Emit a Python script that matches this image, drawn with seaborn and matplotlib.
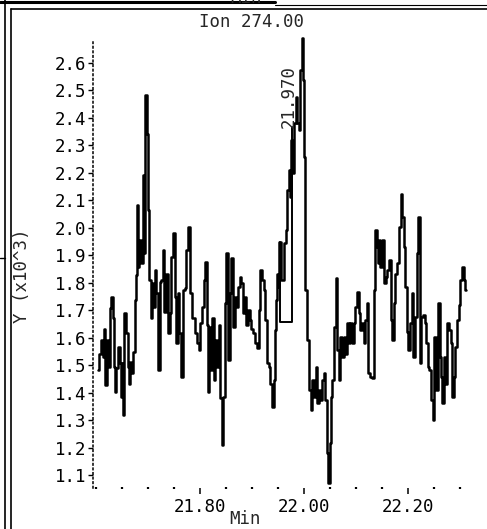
import numpy as np
import pandas as pd
import seaborn as sns
import matplotlib.pyplot as plt
from matplotlib.lines import Line2D
from matplotlib.ticker import MultipleLocator, FormatStrFormatter

# ion trace, time in min, abundance in thousands
times = [
    21.604, 21.608, 21.612, 21.615, 21.617, 21.619, 21.623, 21.626, 21.628, 21.631,
    21.634, 21.636, 21.638, 21.640, 21.644, 21.647, 21.649, 21.651, 21.653, 21.656,
    21.660, 21.662, 21.664, 21.667, 21.669, 21.672, 21.676, 21.678, 21.680, 21.682,
    21.685, 21.688, 21.692, 21.694, 21.696, 21.699, 21.701, 21.704, 21.706, 21.709,
    21.711, 21.714, 21.717, 21.721, 21.724, 21.727, 21.730, 21.733, 21.737, 21.740,
    21.743, 21.746, 21.749, 21.753, 21.756, 21.759, 21.762, 21.765, 21.769, 21.772,
    21.775, 21.778, 21.782, 21.787, 21.793, 21.796, 21.799, 21.803, 21.806, 21.809,
    21.812, 21.815, 21.817, 21.819, 21.822, 21.825, 21.828, 21.831, 21.835, 21.838,
    21.841, 21.843, 21.846, 21.849, 21.852, 21.856, 21.859, 21.862, 21.865, 21.869,
    21.872, 21.875, 21.878, 21.881, 21.885, 21.888, 21.891, 21.894, 21.897, 21.901,
    21.905, 21.908, 21.912, 21.915, 21.918, 21.921, 21.924, 21.928, 21.931, 21.934,
    21.937, 21.940, 21.944, 21.946, 21.948, 21.950, 21.952, 21.954,
    21.959, 21.963,
    21.967, 21.969, 21.972, 21.974, 21.977, 21.979, 21.983, 21.986, 21.988, 21.992,
    21.995, 21.998, 22.000, 22.002, 22.004, 22.008, 22.012, 22.014, 22.017, 22.021,
    22.024, 22.027, 22.030, 22.033, 22.037, 22.040, 22.043, 22.046, 22.048, 22.051,
    22.053, 22.056, 22.060, 22.063, 22.066, 22.069, 22.072, 22.075, 22.078, 22.081,
    22.085, 22.088, 22.091, 22.094, 22.098, 22.101, 22.104, 22.107, 22.110, 22.113,
    22.117, 22.120, 22.123, 22.126, 22.129, 22.133, 22.136, 22.138, 22.142, 22.145,
    22.146, 22.149, 22.152, 22.156, 22.159, 22.162, 22.165, 22.169, 22.172, 22.175,
    22.178, 22.181, 22.185, 22.188, 22.191, 22.194, 22.197, 22.199, 22.202, 22.206,
    22.209, 22.212, 22.215, 22.219, 22.222, 22.224, 22.227, 22.231, 22.234, 22.237,
    22.240, 22.244, 22.247, 22.250, 22.253, 22.256, 22.260, 22.263, 22.266, 22.268,
    22.271, 22.274, 22.277, 22.281, 22.284, 22.287, 22.290, 22.294, 22.297, 22.300,
    22.303, 22.306, 22.310, 22.312,
]
intensity = [
    1.482, 1.542, 1.591, 1.530, 1.633, 1.427, 1.591, 1.494, 1.706, 1.748,
    1.670, 1.494, 1.403, 1.488, 1.567, 1.506, 1.385, 1.506, 1.318, 1.688,
    1.615, 1.494, 1.433, 1.512, 1.470, 1.548, 1.736, 1.827, 2.082, 1.858,
    1.955, 1.870, 2.191, 1.906, 2.482, 2.342, 2.064, 1.809, 1.670, 1.797,
    1.712, 1.845, 1.761, 1.482, 1.803, 1.809, 1.918, 1.694, 1.833, 1.615,
    1.688, 1.894, 1.979, 1.748, 1.579, 1.761, 1.615, 1.457, 1.773, 1.779,
    1.918, 2.003, 1.761, 1.670, 1.615, 1.579, 1.555, 1.652, 1.712, 1.809,
    1.876, 1.645, 1.403, 1.639, 1.482, 1.670, 1.445, 1.591, 1.494, 1.645,
    1.379, 1.209, 1.385, 1.724, 1.906, 1.518, 1.761, 1.888, 1.639, 1.748,
    1.712, 1.785, 1.821, 1.797, 1.688, 1.748, 1.645, 1.700, 1.664, 1.633,
    1.615, 1.579, 1.561, 1.700, 1.845, 1.809, 1.773, 1.664, 1.506, 1.494,
    1.433, 1.348, 1.445, 1.627, 1.736, 1.833, 1.785, 1.948,
    1.809, 1.943,
    1.991, 2.136, 2.209, 2.112, 2.318, 2.197, 2.379, 2.476, 2.379, 2.355,
    2.573, 2.688, 2.536, 2.258, 1.773, 1.591, 1.409, 1.336, 1.445, 1.385,
    1.494, 1.361, 1.409, 1.373, 1.445, 1.470, 1.373, 1.179, 1.070, 1.215,
    1.385, 1.445, 1.639, 1.815, 1.555, 1.445, 1.603, 1.530, 1.603, 1.542,
    1.652, 1.579, 1.652, 1.579, 1.652, 1.712, 1.767, 1.688, 1.627, 1.652,
    1.579, 1.664, 1.724, 1.470, 1.457, 1.452, 1.773, 1.991, 1.930, 1.870,
    1.955, 1.858, 1.955, 1.797, 1.821, 1.845, 1.882, 1.664, 1.591, 1.724,
    1.833, 1.870, 2.003, 2.124, 2.039, 1.930, 1.785, 1.621, 1.555, 1.652,
    1.761, 1.530, 1.676, 1.906, 2.039, 1.506, 1.676, 1.682, 1.652, 1.579,
    1.494, 1.482, 1.373, 1.300, 1.603, 1.409, 1.724, 1.530, 1.457, 1.361,
    1.530, 1.433, 1.652, 1.627, 1.579, 1.385, 1.457, 1.567, 1.664, 1.718,
    1.809, 1.858, 1.809, 1.773,
]

# integration box drawn under the peak
box_t = [21.955, 21.955, 21.978, 21.978]
box_v = [1.948, 1.656, 1.656, 2.365]

peak_rt = 21.970
title = "Ion 274.00"
yticks = [1.1, 1.2, 1.3, 1.4, 1.5, 1.6, 1.7, 1.8, 1.9, 2.0, 2.1, 2.2, 2.3, 2.4, 2.5, 2.6]
xticks = [21.80, 22.00, 22.20]

df = pd.DataFrame({"Min": times, "Y": intensity})

sns.set_style("white")
plt.rcParams["font.family"] = ["DejaVu Sans Mono"]
FS = 12.5

W, H = 487, 529
fig = plt.figure(figsize=(W / 100, H / 100), dpi=100)
ax = fig.add_axes([93 / W, 1 - 488 / H, (470 - 93) / W, (488 - 42) / H])

sns.lineplot(data=df, x="Min", y="Y", ax=ax, color="black", lw=1.8,
             estimator=None, drawstyle="steps-mid", clip_on=False)
ax.plot(box_t, box_v, color="black", lw=1.4)

ax.set_xlim(21.594, 22.32)
ax.set_ylim(1.053, 2.675)

ax.set_yticks(yticks)
ax.yaxis.set_major_formatter(FormatStrFormatter("%.1f"))
ax.set_xticks(xticks)
ax.xaxis.set_major_formatter(FormatStrFormatter("%.2f"))
ax.xaxis.set_minor_locator(MultipleLocator(0.05))

for s in ["top", "right", "bottom"]:
    ax.spines[s].set_visible(False)
ax.spines["left"].set_linestyle((0, (1, 2)))
ax.spines["left"].set_linewidth(1.1)
ax.spines["left"].set_color("black")

ax.tick_params(axis="y", left=True, direction="out", length=3.5, width=1.0, pad=1.5,
               labelsize=FS, colors="black")
ax.tick_params(axis="x", which="major", bottom=True, direction="out", length=4,
               width=1.1, pad=3, labelsize=FS, colors="black")
ax.tick_params(axis="x", which="minor", bottom=True, direction="inout", length=1.6,
               width=1.6, colors="black")
ax.set_xlabel("")
ax.set_ylabel("")

ax.text(peak_rt, 2.362, f"{peak_rt:.3f}", rotation=90, ha="center", va="bottom",
        fontsize=FS)

fig.text(251 / W, 1 - 22 / H, title, ha="center", va="center", fontsize=FS)
fig.text(245 / W, 1 - 519 / H, "Min", ha="center", va="center", fontsize=FS)
fig.text(22 / W, 1 - 276 / H, "Y (x10^3)", rotation=90, ha="center", va="center",
         fontsize=FS)
# bottom of the previous panel's x label, cut by the page edge
fig.text(246 / W, 1 - 3 / H, "Min", ha="center", va="baseline", fontsize=FS)

# scanned page frame
def fline(xs, ys, lw):
    fig.add_artist(Line2D([x / W for x in xs], [1 - y / H for y in ys],
                          transform=fig.transFigure, color="black", lw=lw))

fline([5, 5], [0, H], 1.2)
fline([11, 11], [9, H], 1.2)
fline([0, 275], [1.5, 1.5], 2.2)
fline([275, W], [4.5, 4.5], 0.8)
fline([11, W], [9, 9], 1.2)
fline([0, 5], [258, 258], 1.0)

fig.savefig("out.png", dpi=100)
